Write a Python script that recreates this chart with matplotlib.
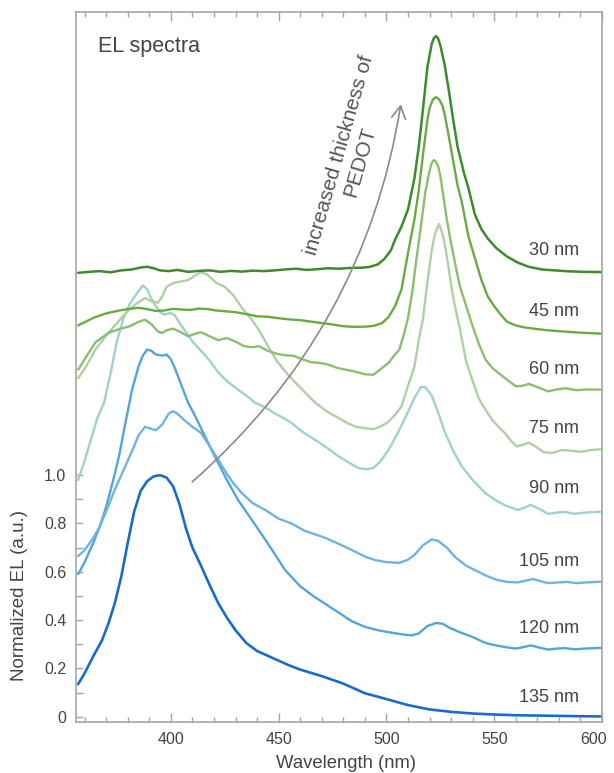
import numpy as np
import matplotlib
matplotlib.use('Agg')
import matplotlib.pyplot as plt
from matplotlib.transforms import ScaledTranslation

plt.rcParams['font.family'] = ['Liberation Sans', 'DejaVu Sans']

# ---------------- data (offset EL spectra) ----------------
wl_30 = [357, 362, 367, 372, 377, 382, 386, 389, 392, 395, 399, 403, 408, 413, 418, 423, 428, 433, 438, 443,
         448, 453, 458, 463, 468, 473, 478, 483, 488, 492, 496, 499, 502, 504, 507, 510, 513, 515, 517, 519,
         521, 522, 523, 524, 525, 527, 529, 531, 533, 536, 538, 541, 544, 547, 551, 556, 561, 566, 572, 578,
         585, 592, 600]
el_30 = [1.838, 1.842, 1.845, 1.840, 1.848, 1.852, 1.860, 1.863, 1.857, 1.848, 1.845, 1.850, 1.842, 1.846, 1.848,
         1.842, 1.846, 1.843, 1.847, 1.845, 1.848, 1.852, 1.855, 1.850, 1.853, 1.857, 1.855, 1.858, 1.859, 1.862,
         1.873, 1.895, 1.930, 1.975, 2.030, 2.100, 2.230, 2.360, 2.520, 2.690, 2.785, 2.810, 2.818, 2.808, 2.780,
         2.700, 2.590, 2.470, 2.360, 2.250, 2.190, 2.080, 2.020, 1.980, 1.940, 1.905, 1.880, 1.863, 1.852, 1.848,
         1.844, 1.842, 1.841]

wl_45 = [357, 361, 365, 370, 375, 380, 385, 389, 393, 397, 401, 405, 409, 413, 417, 421, 425, 430, 435, 440,
         445, 450, 455, 460, 465, 470, 475, 480, 485, 490, 494, 498, 501, 504, 507, 510, 513, 515, 517, 519,
         520, 521.5, 523, 524.5, 526, 527, 529, 531, 533, 535, 538, 541, 544, 547, 550, 553, 556, 560, 564, 569,
         575, 582, 590, 600]
el_45 = [1.620, 1.638, 1.655, 1.670, 1.680, 1.688, 1.693, 1.688, 1.680, 1.682, 1.689, 1.686, 1.684, 1.690, 1.688,
         1.682, 1.679, 1.675, 1.667, 1.658, 1.656, 1.650, 1.645, 1.642, 1.636, 1.630, 1.624, 1.617, 1.614, 1.615,
         1.618, 1.630, 1.655, 1.700, 1.770, 1.920, 2.060, 2.180, 2.330, 2.470, 2.520, 2.555, 2.566, 2.556, 2.530,
         2.495, 2.400, 2.300, 2.200, 2.130, 1.990, 1.900, 1.810, 1.740, 1.700, 1.665, 1.635, 1.620, 1.612, 1.606,
         1.600, 1.595, 1.590, 1.586]

wl_60 = [357, 360, 365, 371, 376, 381, 385, 388, 391, 394, 396, 398, 401, 404, 408, 411, 414, 418, 422, 426,
         430, 434, 438, 441, 445, 449, 453, 457, 461, 465, 469, 473, 477, 481, 485, 490, 494, 498, 501, 504,
         506, 508, 510, 512, 514, 516, 518, 520, 521, 522, 523, 524, 525, 526, 528, 530, 532, 534, 537, 540,
         543, 546, 549, 552, 556, 560, 563, 566, 570, 575, 579, 583, 588, 593, 600]
el_60 = [1.437, 1.480, 1.550, 1.589, 1.605, 1.617, 1.635, 1.644, 1.625, 1.595, 1.589, 1.600, 1.607, 1.595, 1.575,
         1.585, 1.592, 1.575, 1.559, 1.568, 1.553, 1.534, 1.530, 1.534, 1.515, 1.503, 1.497, 1.494, 1.480, 1.468,
         1.465, 1.458, 1.445, 1.437, 1.430, 1.418, 1.416, 1.444, 1.465, 1.500, 1.520, 1.580, 1.650, 1.760, 1.900,
         2.030, 2.170, 2.260, 2.292, 2.305, 2.298, 2.280, 2.240, 2.180, 2.060, 1.960, 1.870, 1.785, 1.700, 1.617,
         1.540, 1.478, 1.445, 1.423, 1.395, 1.368, 1.370, 1.378, 1.365, 1.347, 1.355, 1.360, 1.352, 1.355, 1.354]

wl_75 = [357, 360, 365, 371, 376, 380, 384, 388, 391, 394, 396, 398, 401, 405, 408, 411, 414, 417, 421, 425,
         429, 433, 437, 441, 445, 449, 453, 457, 462, 467, 473, 478, 482, 486, 490, 494, 498, 501, 504, 507,
         510, 513, 515, 517, 519, 521, 522.5, 524.4, 526, 527.5, 529, 530.5, 532, 534, 537, 540, 543, 546, 549, 552,
         555, 558, 560.6, 563, 566, 569, 573, 577, 581, 585, 590, 595, 600]
el_75 = [1.402, 1.440, 1.520, 1.589, 1.640, 1.680, 1.710, 1.734, 1.720, 1.714, 1.740, 1.780, 1.795, 1.803, 1.808,
         1.825, 1.841, 1.830, 1.797, 1.780, 1.745, 1.693, 1.650, 1.600, 1.535, 1.475, 1.430, 1.390, 1.345, 1.300,
         1.260, 1.236, 1.215, 1.200, 1.195, 1.190, 1.205, 1.222, 1.250, 1.285, 1.370, 1.450, 1.560, 1.650, 1.800,
         1.930, 2.000, 2.040, 2.000, 1.935, 1.850, 1.760, 1.690, 1.610, 1.470, 1.390, 1.315, 1.270, 1.230, 1.200,
         1.174, 1.140, 1.119, 1.125, 1.135, 1.120, 1.095, 1.092, 1.104, 1.102, 1.097, 1.104, 1.108]

wl_90 = [357, 360, 363, 366, 369, 372, 375, 378, 381, 384, 387, 389, 391, 393, 395, 397, 400, 402, 405, 408,
         410, 414, 418, 422, 426, 431, 435, 439, 444, 448, 452, 456, 461, 467, 473, 478, 483, 487, 491, 494,
         497, 501, 505, 509, 513, 516, 518, 521, 524, 527, 531, 535, 540, 546, 550, 555, 561, 564, 567, 571,
         575, 579, 583, 587, 592, 600]
el_90 = [0.980, 1.060, 1.150, 1.240, 1.300, 1.420, 1.555, 1.650, 1.710, 1.750, 1.786, 1.770, 1.730, 1.700, 1.675,
         1.665, 1.672, 1.660, 1.617, 1.580, 1.554, 1.515, 1.475, 1.425, 1.390, 1.355, 1.330, 1.300, 1.280, 1.257,
         1.238, 1.216, 1.180, 1.146, 1.110, 1.077, 1.050, 1.029, 1.025, 1.030, 1.055, 1.105, 1.170, 1.243, 1.320,
         1.365, 1.365, 1.330, 1.260, 1.180, 1.100, 1.036, 0.980, 0.925, 0.900, 0.875, 0.856, 0.865, 0.877, 0.860,
         0.840, 0.845, 0.848, 0.840, 0.845, 0.849]

wl_105 = [357, 360, 364, 367, 370, 374, 378, 382, 385, 388, 390, 393, 396, 399, 401, 403, 406, 410, 414, 418,
          422, 426, 429, 433, 438, 444, 450, 456, 462, 467, 472, 478, 484, 490, 495, 500, 506, 510, 513, 517,
          521, 524, 528, 532, 537, 542, 546, 551, 556, 561, 564, 568, 572, 575, 580, 584, 588, 593, 600]
el_105 = [0.665, 0.690, 0.740, 0.787, 0.850, 0.940, 1.020, 1.100, 1.165, 1.200, 1.195, 1.186, 1.210, 1.255, 1.265,
          1.255, 1.230, 1.200, 1.175, 1.120, 1.064, 1.005, 0.967, 0.925, 0.884, 0.855, 0.820, 0.800, 0.770, 0.755,
          0.739, 0.715, 0.690, 0.663, 0.648, 0.640, 0.637, 0.650, 0.670, 0.710, 0.734, 0.728, 0.700, 0.660, 0.625,
          0.603, 0.585, 0.567, 0.558, 0.556, 0.562, 0.570, 0.560, 0.553, 0.556, 0.558, 0.553, 0.556, 0.559]

wl_120 = [357, 360, 364, 367, 370, 373, 376, 379, 382, 385, 387, 389, 391, 393, 396, 398, 400, 402, 405, 408,
          411, 414, 418, 422, 426, 431, 436, 441, 447, 453, 460, 466, 472, 478, 484, 490, 496, 503, 508, 512,
          515, 519, 523, 526, 530, 534, 540, 546, 552, 556, 560, 563, 567, 571, 575, 579, 583, 587, 592, 600]
el_120 = [0.590, 0.640, 0.720, 0.787, 0.870, 0.970, 1.080, 1.220, 1.354, 1.450, 1.495, 1.520, 1.515, 1.500, 1.495,
          1.500, 1.480, 1.440, 1.370, 1.300, 1.250, 1.195, 1.120, 1.050, 0.980, 0.900, 0.835, 0.770, 0.690, 0.607,
          0.540, 0.500, 0.465, 0.430, 0.395, 0.372, 0.358, 0.347, 0.340, 0.337, 0.345, 0.375, 0.388, 0.385, 0.365,
          0.350, 0.330, 0.305, 0.293, 0.287, 0.282, 0.287, 0.295, 0.286, 0.278, 0.282, 0.284, 0.279, 0.282, 0.285]

wl_135 = [357, 360, 364, 368, 371, 374, 377, 380, 383, 386, 389, 392, 395, 398, 401, 404, 407, 410, 414, 418,
          422, 426, 430, 435, 440, 445, 450, 455, 460, 470, 480, 490, 500, 510, 520, 530, 540, 550, 560, 575, 590, 600]
el_135 = [0.135, 0.180, 0.250, 0.315, 0.385, 0.470, 0.580, 0.720, 0.850, 0.935, 0.975, 0.995, 1.000, 0.990, 0.955,
          0.880, 0.780, 0.700, 0.625, 0.545, 0.470, 0.410, 0.358, 0.305, 0.272, 0.252, 0.232, 0.212, 0.195, 0.168,
          0.137, 0.097, 0.073, 0.048, 0.030, 0.020, 0.013, 0.009, 0.006, 0.004, 0.002, 0.001]

thickness_labels = ['30 nm', '45 nm', '60 nm', '75 nm', '90 nm', '105 nm', '120 nm', '135 nm']
label_y = [1.932, 1.679, 1.437, 1.195, 0.943, 0.642, 0.365, 0.079]

xtick_major = [400, 450, 500, 550, 600]
xtick_labels = ['400', '450', '500', '550', '600']
ytick_major = [0, 0.2, 0.4, 0.6, 0.8, 1.0]
ytick_labels = ['0', '0.2', '0.4', '0.6', '0.8', '1.0']

# ---------------- styling ----------------
series = [
    (wl_135, el_135, '#1a6ccb', 1.9),
    (wl_120, el_120, '#52a5dd', 1.7),
    (wl_105, el_105, '#70b4dd', 1.7),
    (wl_90, el_90, '#a0d0d0', 1.7),
    (wl_75, el_75, '#afd0a6', 1.7),
    (wl_60, el_60, '#8ebd72', 1.7),
    (wl_45, el_45, '#6aab40', 1.7),
    (wl_30, el_30, '#3c8c28', 1.8),
]
text_col = '#444444'
spine_col = '#a6a6a6'

fig = plt.figure(figsize=(6.14, 7.73), dpi=100)
ax = fig.add_axes([76 / 614, 51 / 773, 526 / 614, 710 / 773])

for wl, el, col, lw in series:
    ax.plot(wl, el, color=col, lw=lw, solid_joinstyle='round', solid_capstyle='round')

ax.set_xlim(356, 600)
ax.set_ylim(-0.022, 2.918)

ax.set_xticks(xtick_major)
ax.set_xticklabels(xtick_labels)
ax.set_xticks(np.arange(360, 601, 10), minor=True)
ax.set_yticks(ytick_major)
ax.set_yticklabels(ytick_labels)
ax.set_yticks(np.arange(0, 1.01, 0.1), minor=True)

for s in ax.spines.values():
    s.set_color(spine_col)
    s.set_linewidth(1.2)

ax.tick_params(axis='x', which='both', direction='in', top=True, bottom=True,
               color=spine_col, labelcolor=text_col, labelsize=11.5, pad=7, width=1)
ax.tick_params(axis='x', which='major', length=6.5)
ax.tick_params(axis='x', which='minor', length=3.8)
ax.tick_params(axis='y', which='both', direction='in', left=True, right=False,
               color=spine_col, labelcolor=text_col, labelsize=11.5, pad=7, width=1, length=5)

# curve labels
for lab, y in zip(thickness_labels, label_y):
    ax.text(589.5, y, lab, ha='right', va='center', fontsize=13, color=text_col)

ax.text(0.042, 0.951, 'EL spectra', transform=ax.transAxes, ha='left', va='center',
        fontsize=15.5, color=text_col)

# curved arrow + rotated annotation
ax.annotate('', xy=(506.7, 2.536), xytext=(409.9, 0.972),
            arrowprops=dict(arrowstyle='->,head_length=0.5,head_width=0.28', color='#8a8a8a', lw=1.2,
                            connectionstyle='arc3,rad=0.18', shrinkA=0, shrinkB=0, mutation_scale=18))
ax.text(483.0, 2.312, 'increased thickness of\nPEDOT', rotation=74, rotation_mode='anchor',
        ha='center', va='center', multialignment='center', fontsize=15, color='#555555')

ax.set_ylabel('Normalized EL (a.u.)', fontsize=13.5, color=text_col)
ax.yaxis.set_label_coords(-0.1065, 0.5, transform=ax.get_yaxis_transform())
ax.yaxis.label.set_verticalalignment('center')
ax.set_xlabel('Wavelength (nm)', fontsize=13.3, color=text_col)
ax.xaxis.set_label_coords(0.513, -0.058)
ax.xaxis.label.set_verticalalignment('center')

fig.canvas.draw()
last = ax.get_xticklabels()[-1]
last.set_transform(last.get_transform() + ScaledTranslation(-0.08, 0, fig.dpi_scale_trans))

fig.savefig('out.png', dpi=100)
